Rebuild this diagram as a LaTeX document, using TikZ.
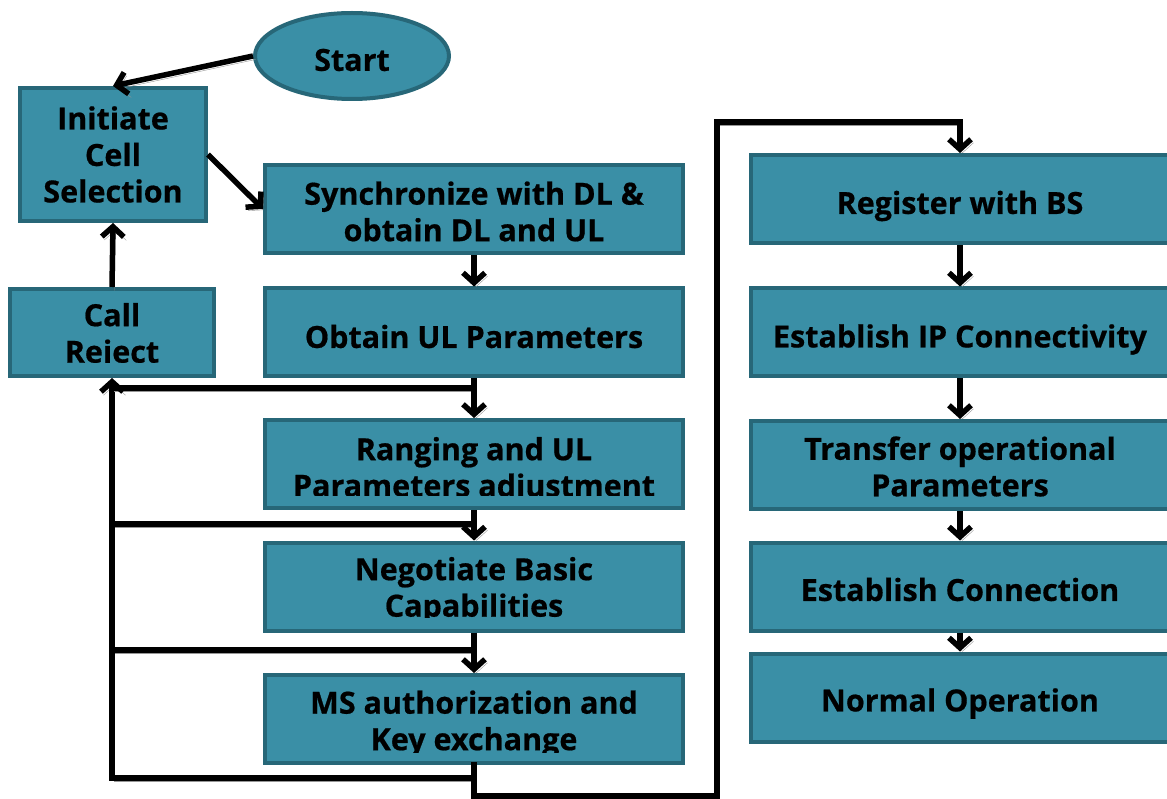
\documentclass[tikz,border=0pt]{standalone}
\usepackage{fontspec}
\setmainfont{Open Sans}[BoldFeatures={FakeBold=0.6}]
\usetikzlibrary{arrows.meta,shapes.geometric}
\definecolor{tealfill}{RGB}{58,143,166}
\definecolor{tealedge}{RGB}{39,103,120}
\definecolor{shade}{RGB}{150,150,150}
% caption of a stage box: [#1] how far above the lower edge the text is cut,
% #2 box name, #3 downward offset, #4 text
\newcommand{\boxtext}[4][-10]{%
  \begin{scope}
    \clip (#2.north west) rectangle ([yshift=#1pt]#2.south east);
    \node[txt] (#2-text) at ([yshift=-#3pt]#2.center) {#4};
  \end{scope}}
\begin{document}
\begin{tikzpicture}[x=1pt,y=-1pt,
  txt/.style={inner sep=0pt, align=center,
    font=\fontsize{30.5}{36.5}\selectfont\bfseries},
  stage/.style={draw=tealedge, fill=tealfill, line width=4pt, inner sep=0pt,
    minimum width=418pt, minimum height=88pt},
  smallstage/.style={stage, minimum width=186pt, minimum height=133pt},
  rejectstage/.style={stage, minimum width=204pt, minimum height=87pt},
  startnode/.style={ellipse, draw=tealedge, fill=tealfill, line width=4pt,
    inner sep=0pt, minimum width=194pt, minimum height=86pt},
  wire/.style={line width=5.5pt, line cap=rect,
    preaction={draw=shade, transform canvas={xshift=2.5pt,yshift=-3.5pt}}},
  conn/.style={wire, line cap=butt, -{Straight Barb[length=10pt,width=22pt]}},
]
\useasboundingbox (0,0) rectangle (1167,799);

% start and cell selection
\node[startnode] (start) at (352,56) {};
\node[smallstage] (init) at (113,154.5) {};
\node[rejectstage] (reject) at (112,332.5) {};

% left column of network entry steps
\node[stage] (sync) at (474,209) {};
\node[stage] (obt)  at (474,332.5) {};
\node[stage] (rang) at (474,464) {};
\node[stage] (nego) at (474,586.5) {};
\node[stage] (auth) at (474,719) {};

% right column
\node[stage] (reg)  at (960,199) {};
\node[stage] (ip)   at (960,332.5) {};
\node[stage] (xfer) at (960,465) {};
\node[stage] (conx) at (960,586.5) {};
\node[stage] (norm) at (960,697.5) {};

% captions
\node[txt] (start-text) at ([yshift=-4pt]start.center) {Start};
\boxtext{init}{0}{Initiate\\Cell\\Selection}
\boxtext[15]{reject}{4}{Call\\Reject}
\boxtext{sync}{2.5}{Synchronize with DL \&\\obtain DL and UL}
\boxtext{obt}{4}{Obtain UL Parameters}
\boxtext[15]{rang}{3}{Ranging and UL\\Parameters adiustment}
\boxtext[15]{nego}{4}{Negotiate Basic\\Capabilities}
\boxtext[13]{auth}{5}{MS authorization and\\Key exchange}
\boxtext{reg}{7}{Register with BS}
\boxtext{ip}{7}{Establish IP Connectivity}
\boxtext{xfer}{1.5}{Transfer operational\\Parameters}
\boxtext{conx}{3}{Establish Connection}
\boxtext{norm}{6}{Normal Operation}

% branch points of the reject loop
\coordinate (b1) at (474,388);
\coordinate (b2) at (474,524);
\coordinate (b3) at (474,650);
\coordinate (b4) at (474,778);
\coordinate (l1) at (112,388);
\coordinate (l2) at (112,524);
\coordinate (l3) at (112,650);
\coordinate (l4) at (112,778);
% route over to the right column
\coordinate (r1) at (474,796);
\coordinate (r2) at (717,796);
\coordinate (r3) at (717,122);
\coordinate (r4) at (960,122);

% reject loop
\draw[wire] (b2) -- (l2);
\draw[wire] (b3) -- (l3);
\draw[wire] (auth.south) -- (b4) -- (l4) -- (l1);
\draw[conn] (b1) -- (l1) -- (reject.south);

% main flow
\draw[conn] (start.west) -- (init.north);
\draw[conn] (init.east) -- (sync.west);
\draw[conn] (reject.north) -- (init.south);
\draw[conn] (sync.south) -- (obt.north);
\draw[conn] (obt.south) -- (rang.north);
\draw[conn] (rang.south) -- (nego.north);
\draw[conn] (nego.south) -- (auth.north);
\draw[conn] (auth.south) -- (r1) -- (r2) -- (r3) -- (r4) -- (reg.north);
\draw[conn] (reg.south) -- (ip.north);
\draw[conn] (ip.south) -- (xfer.north);
\draw[conn] (xfer.south) -- (conx.north);
\draw[conn] (conx.south) -- (norm.north);
\end{tikzpicture}
\end{document}
